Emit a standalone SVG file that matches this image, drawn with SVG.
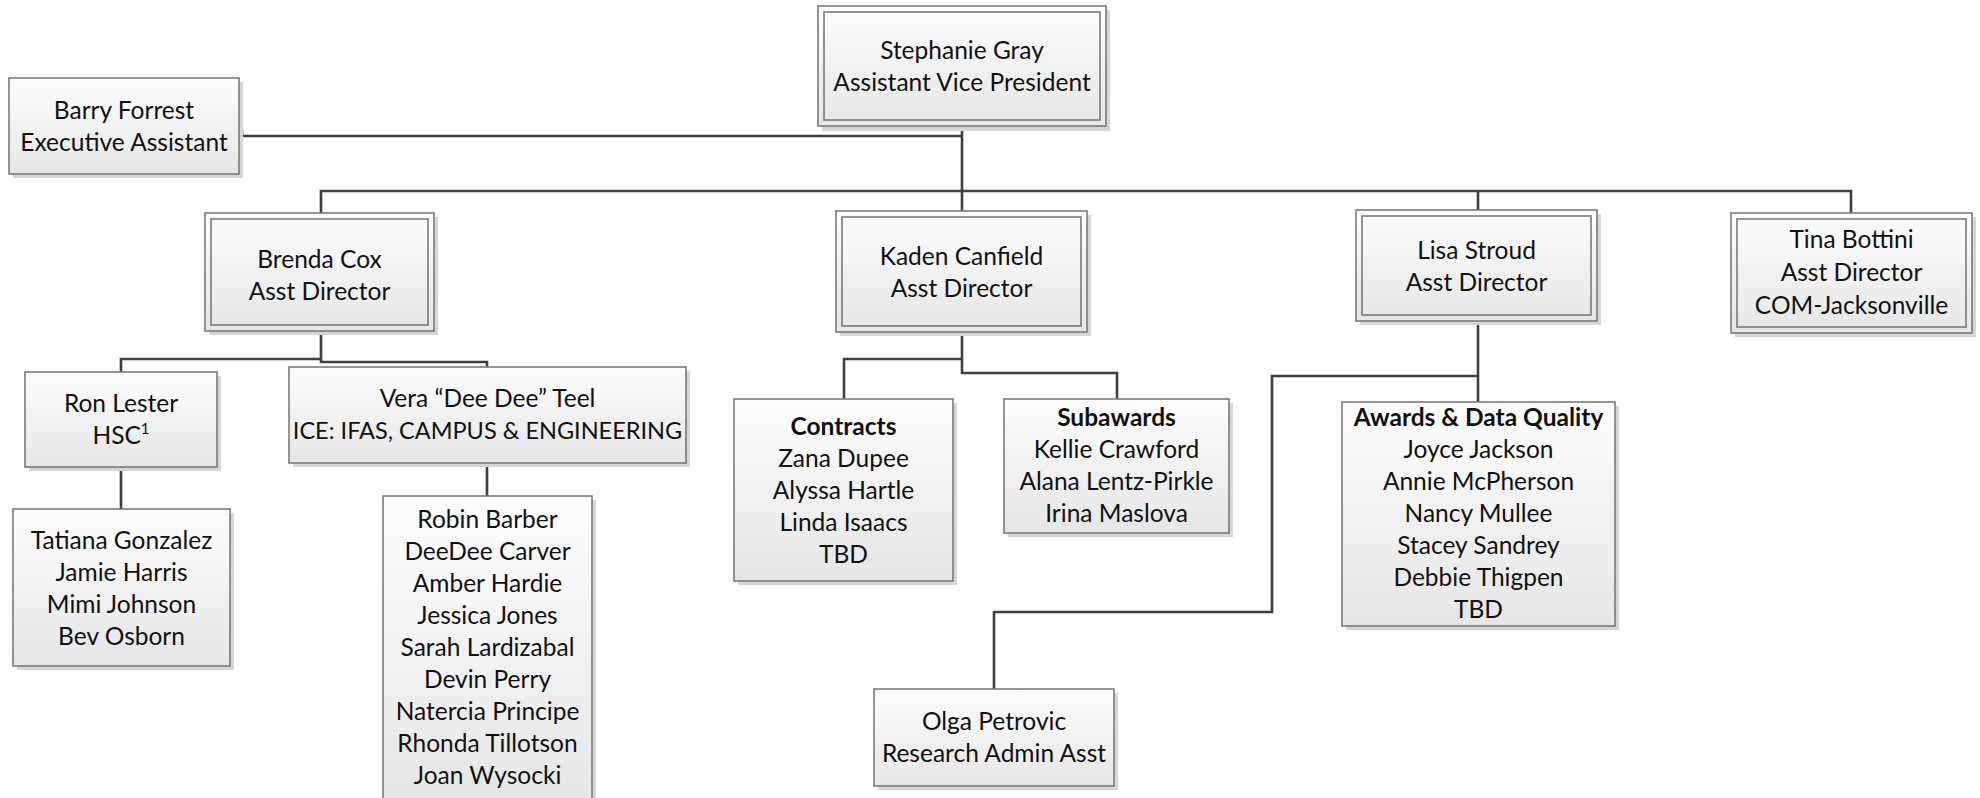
<svg xmlns="http://www.w3.org/2000/svg" width="1980" height="798" viewBox="0 0 1980 798">
<defs>
<linearGradient id="fill" x1="0" y1="0" x2="0" y2="1">
<stop offset="0" stop-color="#fdfdfd"/>
<stop offset="1" stop-color="#e6e6e6"/>
</linearGradient>
<style>
.box{fill:url(#fill);stroke:#7a7a7a;stroke-width:1.6}
.inner{fill:none;stroke:#7a7a7a;stroke-width:1.6}
.sh{fill:#d6d6d6}
.con{fill:none;stroke:#3f3f3f;stroke-width:2.6}
text{font-family:Lato,"Liberation Sans",sans-serif;font-size:24.5px;fill:#111;text-anchor:middle}
.b{font-weight:bold}
</style>
</defs>
<rect width="1980" height="798" fill="#ffffff"/>
<g id="connectors">
<path class="con" d="M239,131 H242 V136 H962"/>
<path class="con" d="M962,126 V191"/>
<path class="con" d="M321,213 V191 H1851 V213"/>
<path class="con" d="M962,191 V211"/>
<path class="con" d="M1478,191 V210"/>
<path class="con" d="M321,331 V359 H121 V372"/>
<path class="con" d="M321,359 V362 H487 V367"/>
<path class="con" d="M121,467 V509"/>
<path class="con" d="M487,463 V496"/>
<path class="con" d="M962,332 V373 H1117 V399"/>
<path class="con" d="M962,359 H844 V399"/>
<path class="con" d="M1478,321 V402"/>
<path class="con" d="M1478,376 H1272 V612 H994 V689"/>
</g>
<g id="stephanie">
<rect class="sh" x="822" y="10" width="288" height="121"/>
<rect class="box" x="818" y="6" width="288" height="120"/>
<rect class="inner" x="824" y="12" width="276" height="108"/>
<text x="962" y="59">Stephanie Gray</text>
<text x="962" y="91">Assistant Vice President</text>
</g>
<g id="barry">
<rect class="sh" x="13" y="82" width="230" height="96"/>
<rect class="box" x="9" y="78" width="230" height="96"/>
<text x="124" y="119">Barry Forrest</text>
<text x="124" y="151">Executive Assistant</text>
</g>
<g id="brenda">
<rect class="sh" x="209" y="217" width="229" height="118"/>
<rect class="box" x="205" y="213" width="229" height="118"/>
<rect class="inner" x="211" y="219" width="217" height="106"/>
<text x="319.5" y="268">Brenda Cox</text>
<text x="319.5" y="300">Asst Director</text>
</g>
<g id="kaden">
<rect class="sh" x="840" y="215" width="251" height="121"/>
<rect class="box" x="836" y="211" width="251" height="121"/>
<rect class="inner" x="842" y="217" width="239" height="109"/>
<text x="961.5" y="265">Kaden Canfield</text>
<text x="961.5" y="297">Asst Director</text>
</g>
<g id="lisa">
<rect class="sh" x="1360" y="214" width="241" height="111"/>
<rect class="box" x="1356" y="210" width="241" height="111"/>
<rect class="inner" x="1362" y="216" width="229" height="99"/>
<text x="1476.5" y="259">Lisa Stroud</text>
<text x="1476.5" y="291">Asst Director</text>
</g>
<g id="tina">
<rect class="sh" x="1735" y="217" width="241" height="120"/>
<rect class="box" x="1731" y="213" width="241" height="120"/>
<rect class="inner" x="1737" y="219" width="229" height="108"/>
<text x="1851.5" y="248">Tina Bottini</text>
<text x="1851.5" y="281">Asst Director</text>
<text x="1851.5" y="314">COM-Jacksonville</text>
</g>
<g id="ron">
<rect class="sh" x="29" y="376" width="192" height="95"/>
<rect class="box" x="25" y="372" width="192" height="95"/>
<text x="121" y="412">Ron Lester</text>
<text x="121" y="444">HSC<tspan font-size="15" dy="-10">1</tspan></text>
</g>
<g id="vera">
<rect class="sh" x="293" y="371" width="397" height="96"/>
<rect class="box" x="289" y="367" width="397" height="96"/>
<text x="487.5" y="407">Vera “Dee Dee” Teel</text>
<text x="487.5" y="439" style="font-size:23.5px">ICE: IFAS, CAMPUS &amp; ENGINEERING</text>
</g>
<g id="ron-team">
<rect class="sh" x="17" y="513" width="217" height="157"/>
<rect class="box" x="13" y="509" width="217" height="157"/>
<text x="121.5" y="549">Tatiana Gonzalez</text>
<text x="121.5" y="581">Jamie Harris</text>
<text x="121.5" y="613">Mimi Johnson</text>
<text x="121.5" y="645">Bev Osborn</text>
</g>
<g id="vera-team">
<rect class="sh" x="387" y="500" width="209" height="310"/>
<rect class="box" x="383" y="496" width="209" height="310"/>
<text x="487.5" y="527.5">Robin Barber</text>
<text x="487.5" y="559.5">DeeDee Carver</text>
<text x="487.5" y="591.5">Amber Hardie</text>
<text x="487.5" y="623.5">Jessica Jones</text>
<text x="487.5" y="655.5">Sarah Lardizabal</text>
<text x="487.5" y="687.5">Devin Perry</text>
<text x="487.5" y="719.5">Natercia Principe</text>
<text x="487.5" y="751.5">Rhonda Tillotson</text>
<text x="487.5" y="783.5">Joan Wysocki</text>
</g>
<g id="contracts">
<rect class="sh" x="738" y="403" width="219" height="182"/>
<rect class="box" x="734" y="399" width="219" height="182"/>
<text class="b" x="843.5" y="435">Contracts</text>
<text x="843.5" y="467">Zana Dupee</text>
<text x="843.5" y="499">Alyssa Hartle</text>
<text x="843.5" y="531">Linda Isaacs</text>
<text x="843.5" y="563">TBD</text>
</g>
<g id="subawards">
<rect class="sh" x="1008" y="403" width="225" height="134"/>
<rect class="box" x="1004" y="399" width="225" height="134"/>
<text class="b" x="1116.5" y="426">Subawards</text>
<text x="1116.5" y="458">Kellie Crawford</text>
<text x="1116.5" y="490">Alana Lentz-Pirkle</text>
<text x="1116.5" y="522">Irina Maslova</text>
</g>
<g id="awards">
<rect class="sh" x="1346" y="406" width="273" height="224"/>
<rect class="box" x="1342" y="402" width="273" height="224"/>
<text class="b" x="1478.5" y="426">Awards &amp; Data Quality</text>
<text x="1478.5" y="458">Joyce Jackson</text>
<text x="1478.5" y="490">Annie McPherson</text>
<text x="1478.5" y="522">Nancy Mullee</text>
<text x="1478.5" y="554">Stacey Sandrey</text>
<text x="1478.5" y="586">Debbie Thigpen</text>
<text x="1478.5" y="618">TBD</text>
</g>
<g id="olga">
<rect class="sh" x="878" y="693" width="240" height="97"/>
<rect class="box" x="874" y="689" width="240" height="97"/>
<text x="994" y="730">Olga Petrovic</text>
<text x="994" y="762">Research Admin Asst</text>
</g>
</svg>
